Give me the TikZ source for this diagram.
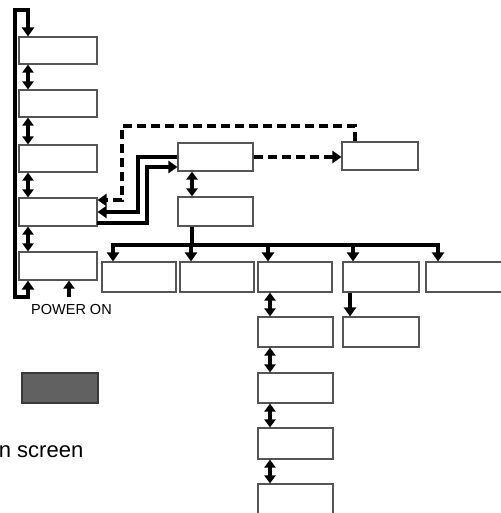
\documentclass[tikz,border=0pt]{standalone}
\usepackage{fontspec}
\setmainfont{Liberation Sans}
\usetikzlibrary{arrows.meta,calc}
\definecolor{boxc}{HTML}{555555}
\definecolor{grayfill}{HTML}{616161}
\definecolor{grayedge}{HTML}{3A3A3A}
\begin{document}
\begin{tikzpicture}[x=1pt,y=-1pt,
  box/.style={draw=boxc,line width=1.1pt,fill=white,inner sep=0pt,rectangle},
  bar/.style={line width=4pt,line join=miter,-{Triangle[width=12pt,length=9pt]}},
  dbl/.style={line width=3.6pt,{Triangle[width=11pt,length=8pt]}-{Triangle[width=11pt,length=8pt]}},
  sol/.style={line width=3.6pt,-{Triangle[width=12pt,length=9pt]}},
  dsh/.style={line width=3.2pt,dash pattern=on 9pt off 5pt,-{Triangle[width=12pt,length=9pt]}},
  lbl/.style={inner sep=0pt}]
\useasboundingbox (0,0) rectangle (500,513);
% left column
\node[box,minimum width=78pt,minimum height=27pt] (L1) at (58,50.5) {};
\node[box,minimum width=78pt,minimum height=27pt] (L2) at (58,103.5) {};
\node[box,minimum width=78pt,minimum height=27pt] (L3) at (58,158.5) {};
\node[box,minimum width=78pt,minimum height=28pt] (L4) at (58,212) {};
\node[box,minimum width=78pt,minimum height=28pt] (L5) at (58,266) {};
% middle
\node[box,minimum width=75pt,minimum height=28pt] (M1) at (215.5,157) {};
\node[box,minimum width=75pt,minimum height=29pt] (M2) at (215.5,211.5) {};
\node[box,minimum width=76pt,minimum height=28pt] (R) at (380,156) {};
% row
\node[box,minimum width=74pt,minimum height=30pt] (B1) at (139,277) {};
\node[box,minimum width=74pt,minimum height=30pt] (B2) at (217,277) {};
\node[box,minimum width=74pt,minimum height=30pt] (B3) at (295,277) {};
\node[box,minimum width=76pt,minimum height=30pt] (B4) at (381,277) {};
\node[box,minimum width=80pt,minimum height=30pt] (B5) at (466,277) {};
% lower
\node[box,minimum width=75pt,minimum height=30pt] (C1) at (295.5,332) {};
\node[box,minimum width=76pt,minimum height=30pt] (D1) at (381,332) {};
\node[box,minimum width=75pt,minimum height=30pt] (C2) at (295.5,388) {};
\node[box,minimum width=75pt,minimum height=31pt] (C3) at (295.5,443.5) {};
\node[box,minimum width=75pt,minimum height=36pt] (C4) at (295.5,502) {};
% gray box
\node[draw=grayedge,fill=grayfill,line width=1.1pt,inner sep=0pt,minimum width=76pt,minimum height=30pt] (G) at (60,388) {};
% texts
\node[lbl,anchor=base west,font=\fontsize{14.5}{16}\selectfont] (pon) at (31,314) {POWER ON};
\node[lbl,anchor=base east,font=\fontsize{22}{24}\selectfont] (scr) at (83.5,457) {n screen};
% helper coordinates
\coordinate (lx) at (28,0);
\coordinate (mx) at (192,0);
\coordinate (cx) at (270,0);
\coordinate (dx) at (350,0);
\coordinate (px) at (69,297);
% left loop
\draw[line width=4.5pt,line join=miter,{Triangle[width=12pt,length=9pt]}-{Triangle[width=12pt,length=9pt]}]
  (L5.south -| lx) -- (28,297) -- (15,297) -- (15,10) -- (28,10) -- (L1.north -| lx);
% power on arrow
\draw[line width=3.4pt,-{Triangle[width=11pt,length=8pt]}] (px) -- (L5.south -| px);
% left double arrows
\draw[dbl] (L1.south -| lx) -- (L2.north -| lx);
\draw[dbl] (L2.south -| lx) -- (L3.north -| lx);
\draw[dbl] (L3.south -| lx) -- (L4.north -| lx);
\draw[dbl] (L4.south -| lx) -- (L5.north -| lx);
% M1 <-> M2
\draw[dbl] (M1.south -| mx) -- (M2.north -| mx);
% solid lines between M1 and L4
\coordinate (s1) at (138,157);
\coordinate (s2) at (138,212);
\draw[sol] (M1.west) -- (s1) -- (s2) -- (L4.east);
\coordinate (t0) at (97,223);
\coordinate (t1) at (147,223);
\coordinate (t2) at (147,167);
\draw[sol] (t0) -- (t1) -- (t2) -- (M1.west |- t2);
% dashed
\coordinate (d0) at (355,126);
\coordinate (d1) at (122,126);
\coordinate (d2) at (122,200);
\draw[dsh] (R.north -| d0) -- (d0) -- (d1) -- (d2) -- (L4.east |- d2);
\draw[dsh] (M1.east) -- (R.west |- M1.east);
% bus
\coordinate (j) at (192,245);
\coordinate (b1) at (113,245);
\coordinate (b2) at (191,245);
\coordinate (b3) at (268,245);
\coordinate (b4) at (353,245);
\coordinate (b5) at (438,245);
\draw[line width=4pt] (M2.south -| j) -- (j);
\draw[line width=4pt,line cap=rect] (b1) -- (b5);
\draw[bar] (b1) -- (B1.north -| b1);
\draw[bar] (b2) -- (B2.north -| b2);
\draw[bar] (b3) -- (B3.north -| b3);
\draw[bar] (b4) -- (B4.north -| b4);
\draw[bar] (b5) -- (B5.north -| b5);
% lower arrows
\draw[dbl] (B3.south -| cx) -- (C1.north -| cx);
\draw[dbl] (C1.south -| cx) -- (C2.north -| cx);
\draw[dbl] (C2.south -| cx) -- (C3.north -| cx);
\draw[dbl] (C3.south -| cx) -- (C4.north -| cx);
\draw[line width=3.6pt,-{Triangle[width=12pt,length=9pt]}] (B4.south -| dx) -- (D1.north -| dx);
\end{tikzpicture}
\end{document}
